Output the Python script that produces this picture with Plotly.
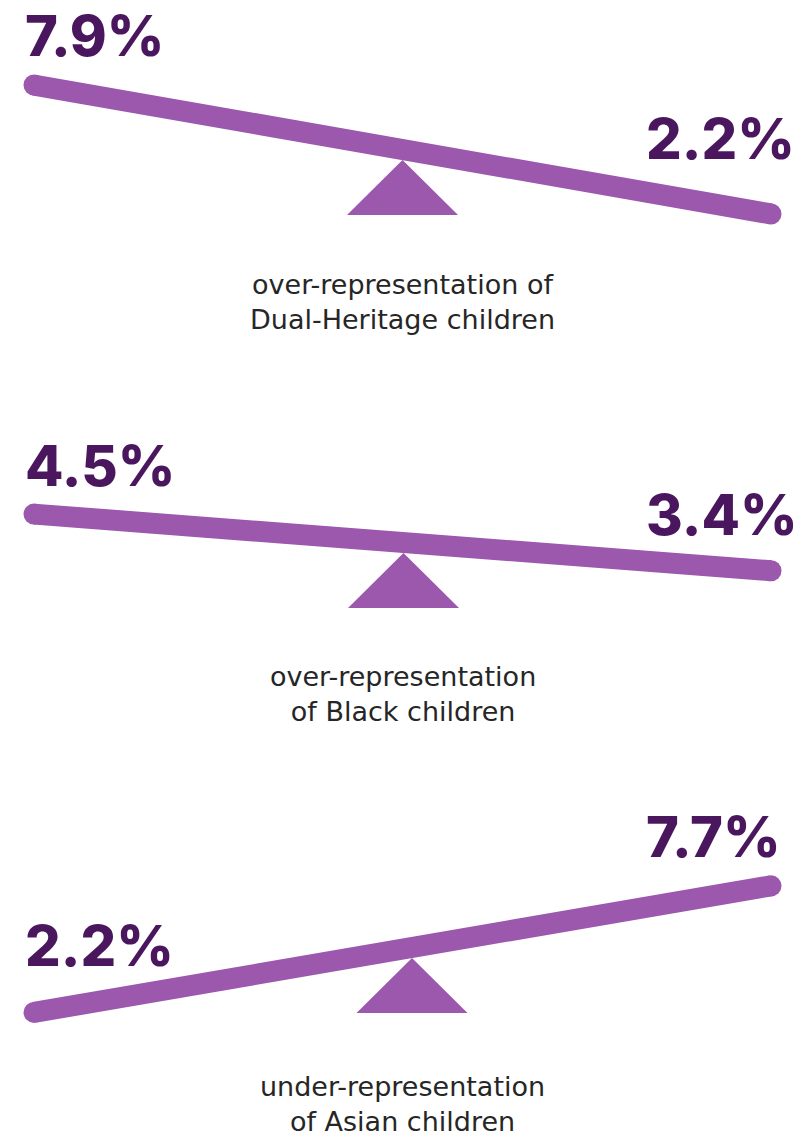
import math
import plotly.graph_objects as go

# ---- data ----
left_values = [7.9, 4.5, 2.2]
right_values = [2.2, 3.4, 7.7]
captions = [
    "over-representation of<br>Dual-Heritage children",
    "over-representation<br>of Black children",
    "under-representation<br>of Asian children",
]

# ---- layout / style constants ----
W, H = 809, 1138
BEAM_COLOR = "#9b58ad"
LABEL_COLOR = "#4a175e"
CAPTION_COLOR = "#262626"
beam_x0, beam_x1 = 34, 771
beam_width = 21
fulcrum_x = [402.5, 403.5, 412]
fulcrum_apex_y = [160, 553, 958]
fulcrum_half = 55.5
fulcrum_h = 55
caption_y = [301.5, 694, 1104]
label_off_high = [49, 48, 49]
label_off_low = [75, 56, 66]
tilt_k = 27.0

fig = go.Figure()
annotations = []

for i in range(3):
    lv, rv = left_values[i], right_values[i]
    diff = lv - rv
    half_drop = tilt_k * math.sqrt(abs(diff)) * (1 if diff > 0 else -1)
    fx = fulcrum_x[i]
    cy = fulcrum_apex_y[i] - beam_width / 2
    slope = (2 * half_drop) / (beam_x1 - beam_x0)
    yl = cy + slope * (beam_x0 - fx)
    yr = cy + slope * (beam_x1 - fx)

    # fulcrum triangle
    fig.add_trace(go.Scatter(
        x=[fx - fulcrum_half, fx, fx + fulcrum_half, fx - fulcrum_half],
        y=[fulcrum_apex_y[i] + fulcrum_h, fulcrum_apex_y[i], fulcrum_apex_y[i] + fulcrum_h, fulcrum_apex_y[i] + fulcrum_h],
        mode="lines", fill="toself", fillcolor=BEAM_COLOR,
        line=dict(width=0, color=BEAM_COLOR), hoverinfo="skip", showlegend=False))

    # beam
    fig.add_trace(go.Scatter(
        x=[beam_x0, beam_x1], y=[yl, yr], mode="lines+markers",
        line=dict(color=BEAM_COLOR, width=beam_width),
        marker=dict(size=beam_width, color=BEAM_COLOR, line=dict(width=0)),
        hoverinfo="skip", showlegend=False))

    # labels
    l_off = label_off_high[i] if yl < yr else label_off_low[i]
    r_off = label_off_high[i] if yr < yl else label_off_low[i]
    annotations.append(dict(x=23, y=yl - l_off, xref="x", yref="y",
                            text=f"{lv}%", showarrow=False, xanchor="left", yanchor="middle",
                            font=dict(family="Inter", size=56, color=LABEL_COLOR, weight=800)))
    annotations.append(dict(x=644, y=yr - r_off, xref="x", yref="y",
                            text=f"{rv}%", showarrow=False, xanchor="left", yanchor="middle",
                            font=dict(family="Inter", size=56, color=LABEL_COLOR, weight=800)))
    annotations.append(dict(x=402.5, y=caption_y[i], xref="x", yref="y",
                            text=captions[i], showarrow=False, xanchor="center", yanchor="middle",
                            align="center",
                            font=dict(family="DejaVu Sans", size=27, color=CAPTION_COLOR)))

fig.update_layout(
    width=W, height=H, margin=dict(l=0, r=0, t=0, b=0),
    paper_bgcolor="white", plot_bgcolor="white",
    xaxis=dict(range=[0, W], visible=False, fixedrange=True),
    yaxis=dict(range=[H, 0], visible=False, fixedrange=True),
    annotations=annotations,
    showlegend=False,
)

fig.write_html("out.html", config={"displayModeBar": False},
               post_script="document.body.style.margin='0';document.body.style.overflow='hidden';")
